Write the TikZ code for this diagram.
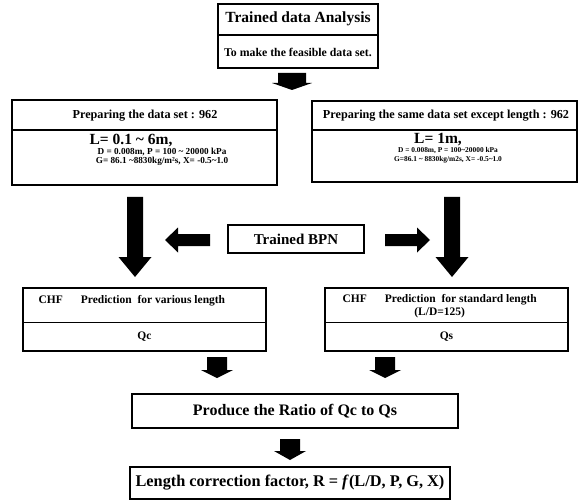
\documentclass[tikz,border=0pt]{standalone}
\usepackage{fontspec}
\setmainfont{Liberation Serif}
\newcommand{\dnarrow}[6]{% cx, ytop, ybot, shaft half, head half, head length
  \fill ({#1-#4},#2) -- ({#1+#4},#2) -- ({#1+#4},{#3-#6}) -- ({#1+#5},{#3-#6}) -- (#1,#3)
        -- ({#1-#5},{#3-#6}) -- ({#1-#4},{#3-#6}) -- cycle;}
\newcommand{\hzarrow}[6]{% xtip, xtail, cy, shaft half, head half, head length (signed)
  \fill (#1,#3) -- ({#1+#6},{#3-#5}) -- ({#1+#6},{#3-#4}) -- (#2,{#3-#4}) -- (#2,{#3+#4})
        -- ({#1+#6},{#3+#4}) -- ({#1+#6},{#3+#5}) -- cycle;}
\begin{document}
\begin{tikzpicture}[x=1bp,y=-1bp,line width=1.1bp,
  box/.style={draw,inner sep=0pt,outer sep=0pt},
  tA/.style={inner sep=0pt,font=\fontsize{16bp}{18bp}\selectfont\bfseries},
  tB/.style={inner sep=0pt,font=\fontsize{12.2bp}{14bp}\selectfont\bfseries},
  tC/.style={inner sep=0pt,font=\fontsize{11.5bp}{13bp}\selectfont\bfseries},
  tS/.style={inner sep=0pt,font=\fontsize{9.2bp}{10bp}\selectfont\bfseries},
  tR/.style={inner sep=0pt,font=\fontsize{7.4bp}{8bp}\selectfont\bfseries},
]
\useasboundingbox[fill=white] (0,0) rectangle (582,503);

% ---- top box
\node[box,minimum width=160bp,minimum height=64bp] (top) at (298,36) {};
\coordinate (dv1) at (0,35);
\draw (top.west |- dv1) -- (top.east |- dv1);
\node[tA,font=\fontsize{15.5bp}{17bp}\selectfont\bfseries] (ttop) at (298,19) {Trained data Analysis};
\node[tB,font=\fontsize{11.8bp}{13bp}\selectfont\bfseries] (tsub) at (298,52) {To make the feasible data set.};
\dnarrow{292}{73}{90}{14}{20}{7}

% ---- data set boxes
\node[box,minimum width=265bp,minimum height=85bp] (dl) at (144.5,142.5) {};
\coordinate (dv2) at (0,130);
\draw (dl.west |- dv2) -- (dl.east |- dv2);
\node[tB] (dlt) at (145,116) {Preparing the data set : 962};
\node[tA,font=\fontsize{15.5bp}{17bp}\selectfont\bfseries] (dlL) at (131,141) {L= 0.1 \textasciitilde{} 6m,};
\node[tS] (dlD) at (162,152.5) {D = 0.008m, P = 100 \textasciitilde{} 20000 kPa};
\node[tS] (dlG) at (162,161.5) {G= 86.1 \textasciitilde8830kg/m²s, X= -0.5\textasciitilde1.0};

\node[box,minimum width=265bp,minimum height=81bp] (dr) at (444.5,141.5) {};
\draw (dr.west |- dv2) -- (dr.east |- dv2);
\node[tB] (drt) at (446,116) {Preparing the same data set except length : 962};
\node[tA,font=\fontsize{15.5bp}{17bp}\selectfont\bfseries] (drL) at (438,140) {L= 1m,};
\node[tR] (drD) at (448,151) {D = 0.008m, P = 100\textasciitilde20000 kPa};
\node[tR] (drG) at (448,160) {G=86.1 \textasciitilde{} 8830kg/m2s, X= -0.5\textasciitilde1.0};

% ---- big down arrows and BPN
\dnarrow{135}{197}{277}{8}{16.5}{20}
\dnarrow{452}{197}{277}{8}{16.5}{20}
\node[box,minimum width=136bp,minimum height=28bp] (bpn) at (296,239) {};
\node[tA,font=\fontsize{15bp}{17bp}\selectfont\bfseries] (tbpn) at (296,239) {Trained BPN};
\hzarrow{165}{210}{240}{6}{12.5}{13}
\hzarrow{430}{385}{240}{6}{12.5}{-13}

% ---- CHF boxes
\node[box,minimum width=243bp,minimum height=63bp] (cl) at (144.5,319.5) {};
\coordinate (dv3) at (0,322.5);
\draw (cl.west |- dv3) -- (cl.east |- dv3);
\node[tC,anchor=west] (clt) at (38,301) {CHF\hspace{18bp}Prediction\hspace{3bp} for various length};
\node[tC] (qc) at (144.5,337) {Qc};

\node[box,minimum width=243bp,minimum height=63bp] (cr) at (446.5,319.5) {};
\draw (cr.west |- dv3) -- (cr.east |- dv3);
\node[tC,anchor=west] (crt) at (342,300) {CHF\hspace{18bp}Prediction\hspace{3bp} for standard length};
\node[tC] (crt2) at (crt.center |- 0,312.5) {(L/D=125)};
\node[tC] (qs) at (446.5,337) {Qs};

\dnarrow{217}{357}{378}{10}{16}{8}
\dnarrow{385}{357}{378}{10}{16}{8}

% ---- ratio and result
\node[box,minimum width=326bp,minimum height=34bp] (ratio) at (295,411) {};
\node[tA] (tratio) at (295,411) {Produce the Ratio of Qc to Qs};
\dnarrow{290}{439}{460}{10}{16}{9}
\node[box,minimum width=320bp,minimum height=32bp] (res) at (290,483) {};
\node[tA,font=\fontsize{16.3bp}{18bp}\selectfont\bfseries] (tres) at (290,483) {Length correction factor, R = \textit{f}(L/D, P, G, X)};
\end{tikzpicture}
\end{document}
